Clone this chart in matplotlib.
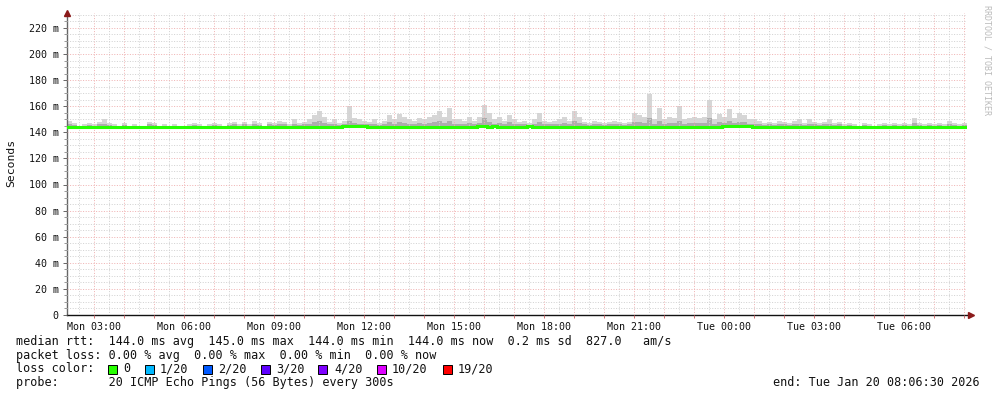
import datetime as dt
import matplotlib
matplotlib.use("Agg")
import matplotlib.pyplot as plt
import matplotlib.dates as mdates
from matplotlib.ticker import MultipleLocator, FuncFormatter
from matplotlib.patches import Rectangle

# ---------------- data (10-minute steps, ms) ----------------
start_time = dt.datetime(2026, 1, 19, 2, 6, 30)
end_time = dt.datetime(2026, 1, 20, 8, 6, 30)
step_minutes = 10

median_rtt = [
    144, 144, 144, 144, 144, 144, 144, 144, 144, 144, 144, 144,
    144, 144, 144, 144, 144, 144, 144, 144, 144, 144, 144, 144,
    144, 144, 144, 144, 144, 144, 144, 144, 144, 144, 144, 144,
    144, 144, 144, 144, 144, 144, 144, 144, 144, 144, 144, 144,
    144, 144, 144, 144, 144, 144, 144, 145, 145, 145, 145, 145,
    144, 144, 144, 144, 144, 144, 144, 144, 144, 144, 144, 144,
    144, 144, 144, 144, 144, 144, 144, 144, 144, 144, 145, 145,
    144, 145, 144, 144, 144, 144, 144, 144, 145, 144, 144, 144,
    144, 144, 144, 144, 144, 144, 144, 144, 144, 144, 144, 144,
    144, 144, 144, 144, 144, 144, 144, 144, 144, 144, 144, 144,
    144, 144, 144, 144, 144, 144, 144, 144, 144, 144, 144, 145,
    145, 145, 145, 145, 145, 144, 144, 144, 144, 144, 144, 144,
    144, 144, 144, 144, 144, 144, 144, 144, 144, 144, 144, 144,
    144, 144, 144, 144, 144, 144, 144, 144, 144, 144, 144, 144,
    144, 144, 144, 144, 144, 144, 144, 144, 144, 144, 144, 144,
]

smoke_max = [
    149, 147, 145, 146, 147, 146, 148, 150, 147, 146, 145, 147,
    145, 146, 145, 145, 148, 147, 145, 146, 145, 146, 145, 145,
    146, 147, 146, 145, 146, 147, 146, 145, 147, 148, 146, 148,
    146, 149, 147, 145, 148, 147, 149, 148, 146, 150, 147, 148,
    150, 153, 156, 152, 148, 150, 147, 149, 160, 151, 150, 149,
    148, 150, 147, 149, 153, 150, 154, 152, 150, 149, 151, 150,
    152, 153, 156, 152, 159, 150, 150, 149, 152, 149, 152, 161,
    155, 150, 152, 149, 153, 150, 148, 149, 147, 150, 155, 149,
    148, 149, 150, 152, 149, 156, 152, 148, 147, 149, 148, 147,
    148, 149, 148, 147, 148, 155, 153, 152, 169, 150, 159, 150,
    152, 151, 160, 150, 151, 152, 151, 152, 165, 150, 154, 152,
    158, 151, 155, 153, 150, 150, 149, 147, 148, 147, 149, 148,
    147, 149, 150, 147, 150, 148, 147, 148, 150, 147, 148, 146,
    147, 146, 145, 147, 146, 145, 146, 147, 146, 147, 146, 147,
    146, 151, 147, 146, 147, 146, 147, 146, 149, 147, 146, 147,
]

smoke_mid = [
    146.5, 145.5, 145, 145, 145.5, 145, 146, 146.5, 145.5, 145, 145, 145.5,
    145, 145, 145, 145, 146, 145.5, 145, 145, 145, 145, 145, 145,
    145, 145.5, 145, 145, 145, 145.5, 145, 145, 145.5, 146, 145, 146,
    145, 146.5, 145.5, 145, 146, 145.5, 146.5, 146, 145, 146.5, 145.5, 146,
    146.5, 148, 149, 147, 146, 146.5, 145.5, 146.5, 149, 147, 146.5, 146.5,
    146, 146.5, 145.5, 146.5, 148, 146.5, 148, 147, 146.5, 146.5, 147, 146.5,
    147, 148, 149, 147, 149, 146.5, 146.5, 146.5, 147, 146.5, 147, 151,
    148, 146.5, 147, 146.5, 148, 146.5, 146, 146.5, 145.5, 146.5, 148, 146.5,
    146, 146.5, 146.5, 147, 146.5, 149, 147, 146, 145.5, 146.5, 146, 145.5,
    146, 146.5, 146, 145.5, 146, 148, 148, 147, 151, 146.5, 149, 146.5,
    147, 147, 149, 146.5, 147, 147, 147, 147, 151, 146.5, 148, 147,
    149, 147, 148, 148, 146.5, 146.5, 146.5, 145.5, 146, 145.5, 146.5, 146,
    145.5, 146.5, 146.5, 145.5, 146.5, 146, 145.5, 146, 146.5, 145.5, 146, 145,
    145.5, 145, 145, 145.5, 145, 145, 145, 145.5, 145, 145.5, 145, 145.5,
    145, 147, 145.5, 145, 145.5, 145, 145.5, 145, 146.5, 145.5, 145, 145.5,
]

loss_labels = ["0", "1/20", "2/20", "3/20", "4/20", "10/20", "19/20"]
loss_colors = ["#26ff00", "#00b8ff", "#0059ff", "#5e00ff", "#7e00ff", "#dd00ff", "#ff0000"]

legend_line1 = "median rtt:  144.0 ms avg  145.0 ms max  144.0 ms min  144.0 ms now  0.2 ms sd  827.0   am/s"
legend_line2 = "packet loss: 0.00 % avg  0.00 % max  0.00 % min  0.00 % now"
legend_probe = "probe:       20 ICMP Echo Pings (56 Bytes) every 300s"
legend_end = "end: Tue Jan 20 08:06:30 2026"

# ---------------- figure ----------------
W, H = 997, 397
MONO = "DejaVu Sans Mono"
fig = plt.figure(figsize=(W / 100, H / 100), dpi=100)
fig.patch.set_facecolor("white")

ax_left, ax_right, ax_top, ax_bottom = 67, 967, 13, 315
ax = fig.add_axes([ax_left / W, 1 - ax_bottom / H,
                   (ax_right - ax_left) / W, (ax_bottom - ax_top) / H])
ax.set_facecolor("white")

n = len(median_rtt)
edges = [mdates.date2num(start_time + dt.timedelta(minutes=step_minutes * i)) for i in range(n + 1)]
med_ext = median_rtt + [median_rtt[-1]]
max_ext = smoke_max + [smoke_max[-1]]
mid_ext = smoke_mid + [smoke_mid[-1]]

ax.fill_between(edges, med_ext, max_ext, step="post", color="#d6d6d6", lw=0, zorder=1)
ax.fill_between(edges, med_ext, mid_ext, step="post", color="#adadad", lw=0, zorder=1.2)
ax.step(edges, med_ext, where="post", color=loss_colors[0], lw=2.2, zorder=3,
        solid_joinstyle="miter")

ax.set_xlim(mdates.date2num(start_time), mdates.date2num(end_time))
ax.set_ylim(0, (ax_bottom - ax_top) / 1.305)

# grids
ax.xaxis.set_major_locator(mdates.HourLocator())
ax.xaxis.set_minor_locator(mdates.MinuteLocator(byminute=[30]))


def xfmt(x, pos):
    d = mdates.num2date(x)
    return d.strftime("%a %H:%M") if d.hour % 3 == 0 else ""


ax.xaxis.set_major_formatter(FuncFormatter(xfmt))
ax.yaxis.set_major_locator(MultipleLocator(20))
ax.yaxis.set_minor_locator(MultipleLocator(5))
ax.yaxis.set_major_formatter(FuncFormatter(lambda v, p: "0" if v == 0 else f"{int(v)} m"))

ax.set_axisbelow(False)
ax.grid(which="major", color="#f0b4b4", lw=0.72, linestyle=(0, (1, 1.6)), zorder=2.5)
ax.grid(which="minor", color="#d2d2d2", lw=0.72, linestyle=(0, (1, 1.6)), zorder=2.4)

for s in ["top", "right"]:
    ax.spines[s].set_visible(False)
ax.spines["left"].set_color("#666666")
ax.spines["left"].set_linewidth(1.0)
ax.spines["bottom"].set_color("#111111")
ax.spines["bottom"].set_linewidth(1.0)

ax.tick_params(axis="y", which="major", length=3, width=0.7, color="#666666",
               labelsize=7.2, pad=3)
ax.tick_params(axis="y", which="minor", length=2, width=0.7, color="#999999")
ax.tick_params(axis="x", which="major", length=2, width=0.7, color="#d07070",
               labelsize=7.2, pad=3)
ax.tick_params(axis="x", which="minor", length=0)
for lab in ax.get_xticklabels() + ax.get_yticklabels():
    lab.set_fontfamily(MONO)
    lab.set_color("#111111")

# arrows
ax.plot([0], [1.0], marker="^", color="#8b1a1a", markersize=4.5, transform=ax.transAxes,
        clip_on=False, zorder=5)
ax.plot([1.004], [0], marker=">", color="#8b1a1a", markersize=4.5, transform=ax.transAxes,
        clip_on=False, zorder=5)


def fx(x):
    return x / W


def fy(y):
    return 1 - y / H


fig.text(fx(11), fy(163), "Seconds", rotation=90, ha="center", va="center",
         fontsize=8.2, family=MONO, color="#111111")
fig.text(fx(987), fy(5), "RRDTOOL / TOBI OETIKER", rotation=270, ha="center", va="top",
         fontsize=6.0, family=MONO, color="#bbbbbb")

LS = 8.5
fig.text(fx(16), fy(341.5), legend_line1, ha="left", va="center", fontsize=LS, family=MONO, color="#111111")
fig.text(fx(16), fy(355), legend_line2, ha="left", va="center", fontsize=LS, family=MONO, color="#111111")
fig.text(fx(16), fy(369), "loss color:", ha="left", va="center", fontsize=LS, family=MONO, color="#111111")
fig.text(fx(16), fy(382.7), legend_probe, ha="left", va="center", fontsize=LS, family=MONO, color="#111111")
fig.text(fx(980), fy(382.7), legend_end, ha="right", va="center", fontsize=LS, family=MONO, color="#111111")

box_x = [108, 145, 203, 261, 318, 377, 443]
text_x = [123, 160, 218, 276, 334, 392, 458]
for bx, tx, lab, col in zip(box_x, text_x, loss_labels, loss_colors):
    fig.add_artist(Rectangle((fx(bx), fy(373.5)), 8.5 / W, 8.5 / H, facecolor=col,
                             edgecolor="black", lw=0.7, transform=fig.transFigure))
    fig.text(fx(tx), fy(369), lab, ha="left", va="center", fontsize=LS, family=MONO, color="#111111")

fig.savefig("out.png", dpi=100, facecolor="white")
